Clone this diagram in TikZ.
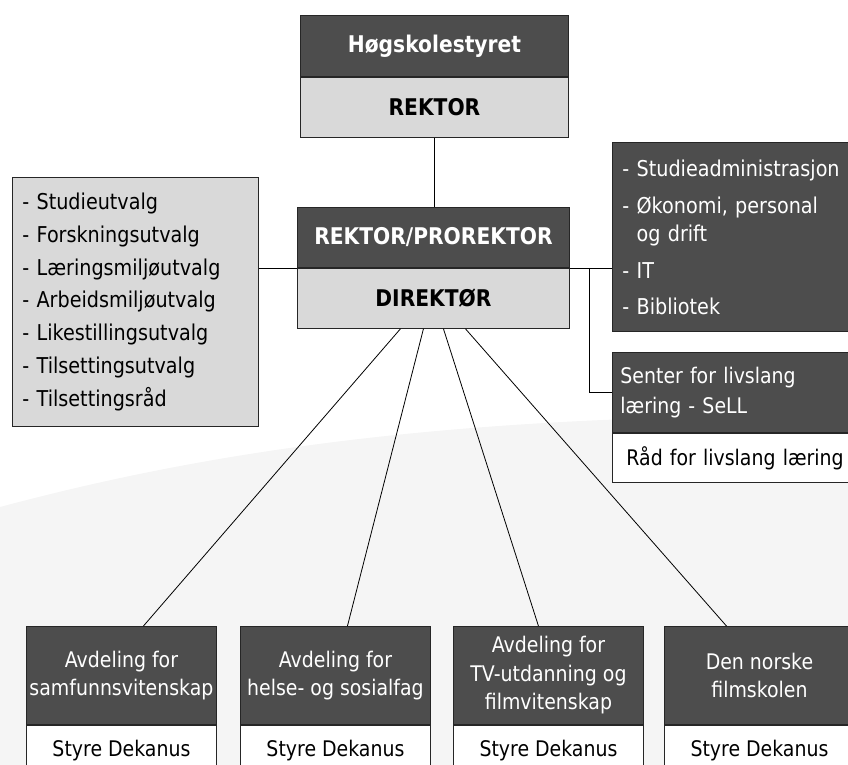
\documentclass[tikz,border=0pt]{standalone}
\usepackage{fontspec}
\setmainfont{DejaVu Sans}[FakeStretch=0.88]
\usetikzlibrary{positioning}

\definecolor{boxdark}{HTML}{4D4D4D}
\definecolor{boxlight}{HTML}{D9D9D9}
\definecolor{bgwash}{HTML}{F5F5F5}

\tikzset{
  box/.style={draw=black!85, line width=0.9pt, inner sep=0pt, align=center},
  darkbox/.style={box, fill=boxdark, text=white},
  lightbox/.style={box, fill=boxlight, text=black},
  whitebox/.style={box, fill=white, text=black},
  headfont/.style={font=\fontsize{23}{26}\selectfont\bfseries},
  bodyfont/.style={font=\fontsize{21.5}{28.5}\selectfont},
  link/.style={draw=black, line width=0.8pt},
}

\begin{document}
\begin{tikzpicture}[x=1pt,y=-1pt]
 \clip (0,0) rectangle (848,765); % whole page
 \fill[bgwash] (0,507) .. controls (250,440) and (500,415) .. (848,415) -- (848,765) -- (0,765) -- cycle; % grey wash at the bottom

 \node[darkbox, headfont, minimum width=268pt, minimum height=61pt, anchor=north west] (styret) at (300,15) {Høgskolestyret}; % top box
 \node[lightbox, headfont, minimum width=268pt, minimum height=60pt, below=0pt of styret] (rektor) {REKTOR};

 \node[darkbox, headfont, minimum width=272pt, minimum height=60pt, anchor=north west] (prorektor) at (297,207) {REKTOR/PROREKTOR}; % middle box
 \node[lightbox, headfont, minimum width=272pt, minimum height=60pt, below=0pt of prorektor] (direktor) {DIREKTØR};

 \node[lightbox, font=\fontsize{21.8}{32.8}\selectfont, align=left, text width=226pt, inner xsep=10pt, minimum height=249pt, anchor=north west] (utvalg) at (12,177)
  {- Studieutvalg\\- Forskningsutvalg\\- Læringsmiljøutvalg\\- Arbeidsmiljøutvalg\\- Likestillingsutvalg\\- Tilsettingsutvalg\\- Tilsettingsråd}; % left list

 \node[darkbox, font=\fontsize{21.8}{27.5}\selectfont, align=left, text width=240pt, inner xsep=10pt, minimum height=189pt, anchor=north west] (admin) at (612,142)
  {- Studieadministrasjon\\[10pt]- Økonomi, personal\\\hphantom{- }og drift\\[10pt]- IT\\[8pt]- Bibliotek\\[-6pt]}; % right list

 \node[darkbox, font=\fontsize{21.5}{30}\selectfont, align=left, text width=240pt, inner xsep=8pt, minimum height=80pt, anchor=north west] (sell) at (612,352) {Senter for livslang\\læring - SeLL};
 \node[whitebox, bodyfont, align=left, text width=240pt, inner xsep=14pt, minimum height=49pt, anchor=north west] (raad) at (sell.south west) {Råd for livslang læring};

 \node[darkbox, bodyfont, minimum width=190pt, minimum height=98pt, anchor=north west] (samf) at (26,626) {Avdeling for\\samfunnsvitenskap}; % bottom row
 \node[whitebox, bodyfont, minimum width=190pt, minimum height=50pt, below=0pt of samf] (samfstyre) {Styre Dekanus};
 \node[darkbox, bodyfont, minimum width=190pt, minimum height=98pt, anchor=north west] (helse) at (240,626) {Avdeling for\\helse- og sosialfag};
 \node[whitebox, bodyfont, minimum width=190pt, minimum height=50pt, below=0pt of helse] (helsestyre) {Styre Dekanus};
 \node[darkbox, bodyfont, minimum width=190pt, minimum height=98pt, anchor=north west] (tv) at (453,626) {Avdeling for\\TV-utdanning og\\filmvitenskap};
 \node[whitebox, bodyfont, minimum width=190pt, minimum height=50pt, below=0pt of tv] (tvstyre) {Styre Dekanus};
 \node[darkbox, bodyfont, minimum width=190pt, minimum height=98pt, anchor=north west] (film) at (664,626) {Den norske\\filmskolen};
 \node[whitebox, bodyfont, minimum width=190pt, minimum height=50pt, below=0pt of film] (filmstyre) {Styre Dekanus};

 \coordinate (split) at ([xshift=19pt]prorektor.south east); % branch down to SeLL

 \draw[link] (rektor.south) -- (rektor.south |- prorektor.north);
 \draw[link] (utvalg.east |- prorektor.south) -- (prorektor.south west);
 \draw[link] (prorektor.south east) -- (admin.west |- prorektor.south);
 \draw[link] (split) |- (sell.west);

 \draw[link] ([xshift=-33pt]direktor.south) -- ([xshift=22pt]samf.north);
 \draw[link] ([xshift=-10pt]direktor.south) -- ([xshift=12pt]helse.north);
 \draw[link] ([xshift=10pt]direktor.south) -- ([xshift=-10pt]tv.north);
 \draw[link] ([xshift=32pt]direktor.south) -- ([xshift=-33pt]film.north);
\end{tikzpicture}
\end{document}
